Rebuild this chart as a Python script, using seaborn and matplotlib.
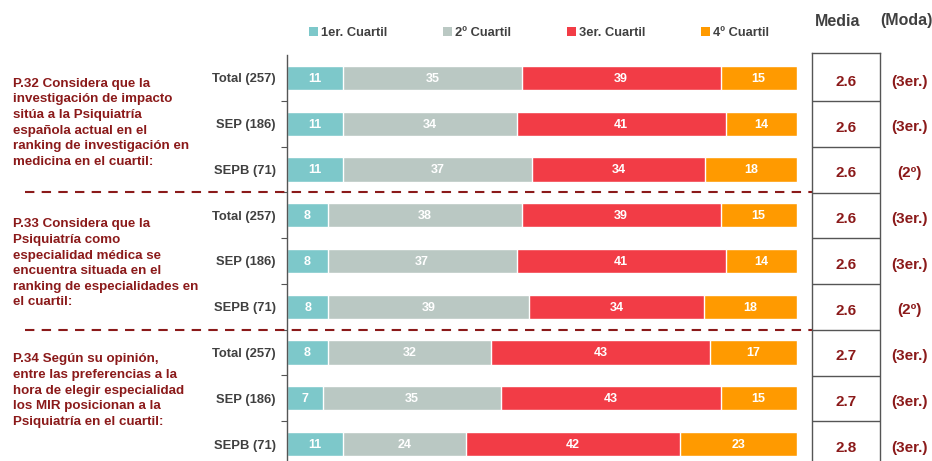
import matplotlib
matplotlib.use("Agg")
import matplotlib.pyplot as plt
import matplotlib.transforms as mtransforms
from matplotlib.patches import Patch
import numpy as np
import pandas as pd
import seaborn as sns

# Data
row_labels = ["Total (257)", "SEP (186)", "SEPB (71)",
              "Total (257)", "SEP (186)", "SEPB (71)",
              "Total (257)", "SEP (186)", "SEPB (71)"]
q1 = [11, 11, 11, 8, 8, 8, 8, 7, 11]
q2 = [35, 34, 37, 38, 37, 39, 32, 35, 24]
q3 = [39, 41, 34, 39, 41, 34, 43, 43, 42]
q4 = [15, 14, 18, 15, 14, 18, 17, 15, 23]
media = ["2.6", "2.6", "2.6", "2.6", "2.6", "2.6", "2.7", "2.7", "2.8"]
moda = ["(3er.)", "(3er.)", "(2º)", "(3er.)", "(3er.)", "(2º)", "(3er.)", "(3er.)", "(3er.)"]
series_names = ["1er. Cuartil", "2º Cuartil", "3er. Cuartil", "4º Cuartil"]
questions = [
    "P.32 Considera que la\ninvestigación de impacto\nsitúa a la Psiquiatría\nespañola actual en el\nranking de investigación en\nmedicina en el cuartil:",
    "P.33 Considera que la\nPsiquiatría como\nespecialidad médica se\nencuentra situada en el\nranking de especialidades en\nel cuartil:",
    "P.34 Según su opinión,\nentre las preferencias a la\nhora de elegir especialidad\nlos MIR posicionan a la\nPsiquiatría en el cuartil:",
]

colors = ["#7DC8CA", "#BAC8C3", "#F23C46", "#FF9A00"]
dark_red = "#8B1A1A"
grey_txt = "#404040"

sns.set_style("white")
plt.rcParams["font.family"] = ["Liberation Sans", "DejaVu Sans"]

df = pd.DataFrame({"row": [f"r{i}" for i in range(9)],
                   "q1": q1, "q2": q2, "q3": q3, "q4": q4})
vals = df[["q1", "q2", "q3", "q4"]].to_numpy(dtype=float)
vals = vals / vals.sum(axis=1, keepdims=True) * 100
cum = np.cumsum(vals, axis=1)

W, H = 932, 461
fig = plt.figure(figsize=(W / 100, H / 100), dpi=100)
ax = fig.add_axes([287 / W, 1 - 467 / H, 510 / W, 412 / H])

# stacked bars drawn back to front
for k in range(3, -1, -1):
    sns.barplot(x=cum[:, k], y=df["row"], orient="h", color=colors[k],
                saturation=1, width=0.53, errorbar=None, ax=ax)

for i in range(9):
    for k in range(4):
        mid = cum[i, k] - vals[i, k] / 2
        ax.text(mid, i + 0.02, str(int(df.iloc[i, k + 1])), ha="center", va="center",
                color="white", fontsize=9, fontweight="bold")

ax.set_xlim(0, 100)
ax.set_ylim(8.5, -0.5)
ax.set_xlabel("")
ax.set_ylabel("")
ax.set_xticks([])
ax.set_yticks(range(9))
ax.set_yticklabels(row_labels, fontsize=9.4, fontweight="bold", color=grey_txt)
ax.tick_params(axis="y", which="major", length=0, pad=8)
ax.set_yticks(np.arange(0.5, 8.5, 1), minor=True)
ax.tick_params(axis="y", which="minor", length=4, width=0.8, color="#555555", left=True)
for s in ["top", "right", "bottom"]:
    ax.spines[s].set_visible(False)
ax.spines["left"].set_color("#555555")
ax.spines["left"].set_linewidth(1)

# Media column
axm = fig.add_axes([812 / W, 1 - 467 / H, 68 / W, 414 / H])
axm.set_xlim(0, 1)
axm.set_ylim(8.5, -0.55)
axm.set_xticks([])
axm.set_yticks([])
for s in ["left", "right", "top"]:
    axm.spines[s].set_color("#555555")
    axm.spines[s].set_linewidth(1)
axm.spines["bottom"].set_visible(False)
for b in np.arange(0.5, 8.5, 1):
    axm.axhline(b, color="#555555", lw=1)
for i in range(9):
    axm.text(0.5, i + 0.08, media[i], ha="center", va="center",
             color=dark_red, fontsize=11, fontweight="bold")

tr = mtransforms.blended_transform_factory(fig.transFigure, ax.transData)
for i in range(9):
    ax.text(909 / W, i + 0.08, moda[i], transform=tr, ha="center", va="center",
            color=dark_red, fontsize=11, fontweight="bold", clip_on=False)

# group separators
for b in [2.5, 5.5]:
    ax.plot([25 / W, 880 / W], [b, b], transform=tr, color=dark_red, lw=1.5,
            ls=(0, (4.5, 3.5)), clip_on=False, zorder=5)

# question texts
for g, (q, dy) in enumerate(zip(questions, [0.0, 0.07, 0.02])):
    ax.text(13 / W, 3 * g + dy, q, transform=tr, ha="left", va="top",
            color=dark_red, fontsize=9.6, fontweight="bold", linespacing=1.4)

# headers
fig.text(838 / W, 1 - 21 / H, "Media", ha="center", va="center",
         color=grey_txt, fontsize=11.5, fontweight="bold")
fig.text(906 / W, 1 - 21 / H, "(Moda)", ha="center", va="center",
         color=grey_txt, fontsize=11.5, fontweight="bold")

handles = [Patch(facecolor=c, edgecolor="none") for c in colors]
fig.legend(handles, series_names, loc="center left",
           bbox_to_anchor=(309 / W, 1 - 33 / H), ncol=4, frameon=False,
           borderpad=0, borderaxespad=0, handlelength=0.7, handleheight=0.7,
           handletextpad=0.25, columnspacing=4.3,
           prop={"size": 9.3, "weight": "bold"}, labelcolor=grey_txt)

fig.savefig("out.png", dpi=100)
